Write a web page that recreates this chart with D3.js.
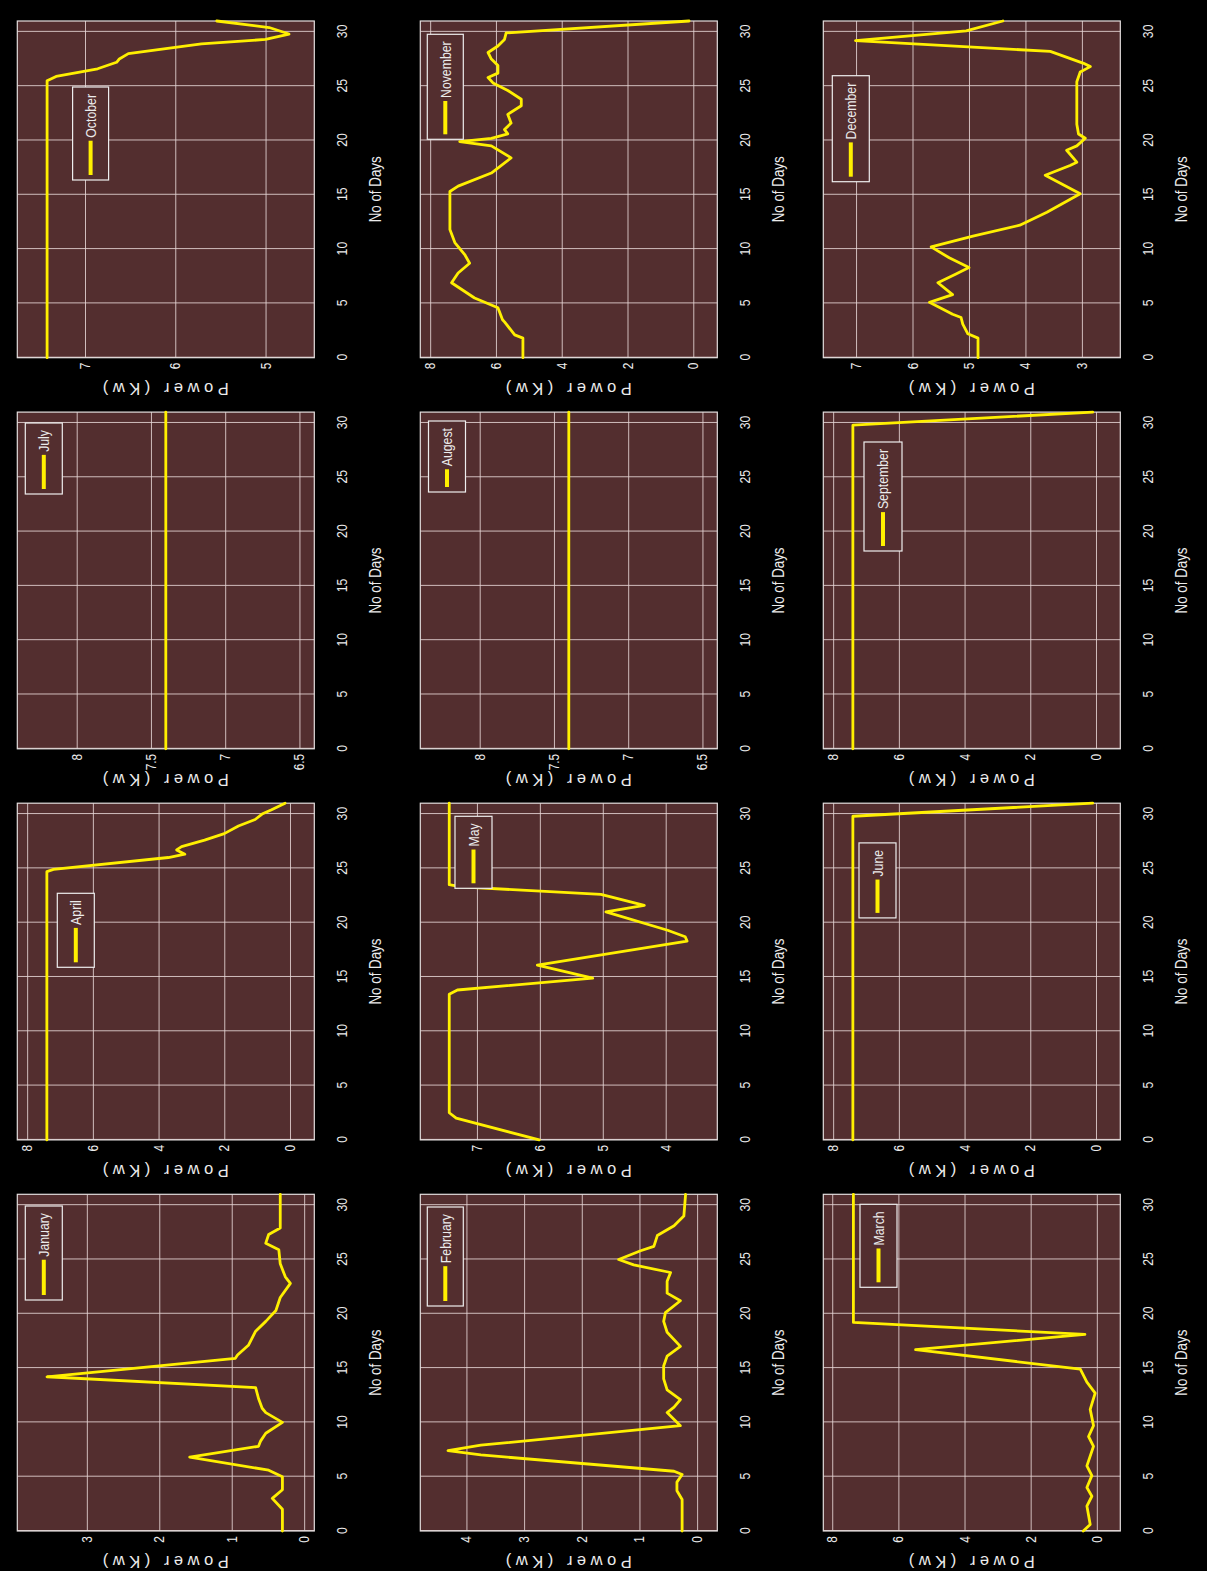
<!DOCTYPE html>
<html>
<head>
<meta charset="utf-8">
<script src="https://cdn.jsdelivr.net/npm/d3@7"></script>
<style>
  html, body { margin: 0; padding: 0; background: #000; }
  svg { display: block; }
</style>
</head>
<body>
<script>
// ---- Data: daily power (kW) per month, as [day, kW] pairs ----
const monthLabels = ["January","February","March","April","May","June",
                     "July","Augest","September","October","November","December"];

const january = [[0,0.30],[2,0.30],[3,0.44],[3.8,0.30],[5,0.30],[5.6,0.49],[6.8,1.58],[7.8,0.63],
  [8.3,0.60],[9,0.53],[10,0.30],[10.9,0.53],[11.3,0.58],[12.2,0.63],[13.2,0.67],[14.2,3.55],
  [15.9,0.95],[16.2,0.92],[17.1,0.77],[18.4,0.67],[19.3,0.53],[20.3,0.39],[21.5,0.33],[22.8,0.19],
  [23.4,0.26],[24.6,0.33],[25.9,0.35],[26.5,0.53],[27.3,0.49],[27.9,0.33],[31,0.33]];
const february = [[0,0.26],[2.9,0.26],[3.7,0.35],[4.5,0.35],[5.2,0.26],[5.5,0.40],[7.0,3.75],[7.4,4.32],
  [7.9,3.75],[9.7,0.29],[10.9,0.52],[11.4,0.40],[12.1,0.29],[13,0.52],[14,0.58],[15.2,0.58],[16.1,0.52],
  [17,0.29],[18.3,0.52],[19.3,0.58],[20.1,0.55],[21.2,0.29],[21.9,0.52],[23,0.52],[23.8,0.46],
  [24.5,1.10],[25,1.36],[25.8,0.98],[26.2,0.75],[27.2,0.69],[28.1,0.40],[29,0.23],[31,0.20]];
const march = [[0,0.41],[0.6,0.20],[2.3,0.30],[3.2,0.15],[4,0.30],[5.1,0.15],[6,0.30],[7.8,0.10],
  [8.7,0.25],[9.7,0.10],[11.2,0.20],[12.7,0.05],[13.7,0.30],[14.9,0.50],[16.7,5.48],[18.1,0.36],
  [19.2,7.36],[31,7.36]];
const april = [[0,7.40],[24.7,7.40],[24.9,7.20],[26,3.70],[26.3,3.20],[26.7,3.45],[27,3.30],[27.6,2.60],
  [28.2,2.00],[28.9,1.57],[29.5,1.06],[30,0.85],[30.4,0.56],[31,0.15]];
const may = [[0,6.01],[2,7.33],[2.5,7.44],[13.4,7.44],[13.8,7.31],[14.9,5.16],[16.1,6.04],[18.3,3.66],
  [18.7,3.69],[19.3,3.97],[21,4.95],[21.6,4.34],[22.6,5.03],[23.3,7.25],[23.5,7.44],[31,7.44]];
const june = [[0,7.40],[29.8,7.40],[31,0.10]];
const july = [[0,7.40],[31,7.40]];
const august = [[0,7.40],[31,7.40]];
const september = [[0,7.40],[29.8,7.40],[31,0.10]];
const october = [[0,7.42],[25.5,7.42],[25.9,7.32],[26.6,6.86],[27.2,6.65],[27.5,6.62],[28,6.52],
  [28.9,5.71],[29.3,5.00],[29.8,4.74],[30.4,4.96],[31,5.54]];
const november = [[0,5.18],[1.8,5.18],[2.1,5.43],[3.3,5.74],[3.5,5.80],[4.6,5.94],[5.5,6.65],[6.9,7.35],
  [7.8,7.15],[8.7,6.80],[9.5,6.95],[10.6,7.25],[11.8,7.40],[15.3,7.40],[15.8,7.15],[17,6.14],[18.4,5.54],
  [19.5,6.14],[19.9,7.10],[20.2,6.14],[20.6,5.64],[21,5.74],[21.6,5.54],[22.4,5.64],[23.2,5.23],
  [23.8,5.23],[24.6,5.64],[25.3,6.09],[25.8,6.24],[26.2,5.94],[26.9,5.94],[27.5,6.14],[28.1,6.24],
  [28.7,5.94],[29.3,5.74],[29.9,5.69],[31,0.13]];
const december = [[0,4.84],[1.8,4.84],[2.2,5.02],[3.1,5.11],[3.7,5.14],[4,5.29],[5.1,5.70],[5.8,5.29],
  [6.9,5.55],[7.7,5.23],[8.3,5.00],[9.2,5.35],[10.2,5.67],[11.2,4.93],[12.2,4.10],[13.4,3.62],
  [15.1,3.03],[16.8,3.65],[17.7,3.21],[18,3.09],[19.1,3.27],[19.5,3.09],[20.2,2.94],[20.6,3.06],
  [21.5,3.09],[25.4,3.09],[26.3,3.03],[26.8,2.85],[27.1,2.97],[28.2,3.56],[29.2,7.01],[30.1,5.05],
  [31,4.40]];

const monthSeries = [january,february,march,april,may,june,july,august,september,october,november,december];

// Axis ranges and tick values
const dayDomain = [0, 31];
const dayTicks = [0,5,10,15,20,25,30];
const powerLimits = [[-0.14,3.96],[-0.35,4.80],[-0.71,8.27],[-0.74,8.30],[3.18,7.90],[-0.74,8.30],
                     [6.4,8.4],[6.4,8.4],[-0.74,8.30],[4.46,7.75],[-0.73,8.30],[2.32,7.58]];
const powerTicks = [[0,1,2,3],[0,1,2,3,4],[0,2,4,6,8],[0,2,4,6,8],[4,5,6,7],[0,2,4,6,8],
                    [6.5,7,7.5,8],[6.5,7,7.5,8],[0,2,4,6,8],[5,6,7],[0,2,4,6,8],[3,4,5,6,7]];

// ---- Layout (figure drawn in landscape, then turned a quarter turn) ----
const FIG_W = 1571, FIG_H = 1207;
const colX = [40.0, 431.1, 822.2, 1213.3];
const rowY = [17.3, 420.3, 823.3];
const PW = 336.7, PH = 297;
// legend boxes: [dx, dy, width, height] relative to each panel
const legendBoxes = [[231,8,94,37],[225,7,99,36],[243.7,36.7,83,37],[172.6,40,74,37],
  [251.6,34.7,72,37],[222,35.7,75,37],[254.8,8,71,37],[256.8,8.2,71,37],
  [197.8,40.7,109,38],[177.7,55.3,93,36],[218.4,7,105,36],[176,9,106,37]];

const AX_BG = "#532e2f", GRID = "#e6d6d6", FRAME = "#e4dede", TXT = "#ececec", LINE = "#fff000";
const FONT = "'Liberation Sans', Arial, sans-serif";

const svg = d3.select("body").append("svg")
  .attr("width", 1207).attr("height", 1571)
  .style("background", "#000");

const fig = svg.append("g").attr("transform", `translate(0,${FIG_W}) rotate(-90)`);

monthSeries.forEach((series, i) => {
  const c = Math.floor(i / 3), r = i % 3;
  const px = colX[c], py = rowY[r];
  const g = fig.append("g").attr("transform", `translate(${px},${py})`);

  const x = d3.scaleLinear().domain(dayDomain).range([0, PW]);
  const y = d3.scaleLinear().domain(powerLimits[i]).range([PH, 0]);

  g.append("rect").attr("width", PW).attr("height", PH).attr("fill", AX_BG);

  // day axis with full-height grid
  const xa = g.append("g").attr("transform", `translate(0,${PH})`)
    .call(d3.axisBottom(x).tickValues(dayTicks).tickSizeInner(-PH).tickSizeOuter(0).tickPadding(0));
  xa.select(".domain").remove();
  xa.selectAll("line").attr("stroke", GRID).attr("stroke-width", 1).attr("stroke-opacity", 0.85);
  xa.selectAll("text")
    .attr("y", 33).attr("dy", null)
    .attr("transform", "scale(0.82,1)")
    .attr("fill", TXT).style("font-family", FONT).style("font-size", "15px");

  // power axis with full-width grid
  const ya = g.append("g")
    .call(d3.axisLeft(y).tickValues(powerTicks[i]).tickSizeInner(-PW).tickSizeOuter(0).tickPadding(0)
      .tickFormat(d3.format("~g")));
  ya.select(".domain").remove();
  ya.selectAll("line").attr("stroke", GRID).attr("stroke-width", 1).attr("stroke-opacity", 0.85);
  ya.selectAll("text")
    .attr("x", null)
    .attr("transform", "translate(-5,0) scale(0.85,1)")
    .attr("fill", TXT).style("font-family", FONT).style("font-size", "14px");

  // frame
  g.append("rect").attr("width", PW).attr("height", PH)
    .attr("fill", "none").attr("stroke", FRAME).attr("stroke-width", 1.2);

  // series
  const line = d3.line().x(d => x(d[0])).y(d => y(d[1]));
  g.append("path").datum(series).attr("d", line)
    .attr("fill", "none").attr("stroke", LINE).attr("stroke-width", 2.8)
    .attr("stroke-linejoin", "round").attr("stroke-linecap", "round");

  // axis titles
  g.append("text")
    .attr("x", PW / 2).attr("y", PH + 67)
    .attr("text-anchor", "middle")
    .attr("textLength", 66).attr("lengthAdjust", "spacingAndGlyphs")
    .attr("fill", TXT).style("font-family", FONT).style("font-size", "16px")
    .text("No of Days");
  g.append("text")
    .attr("transform", `translate(-25,${PH / 2}) rotate(-90)`)
    .attr("text-anchor", "middle")
    .attr("textLength", 126).attr("lengthAdjust", "spacing")
    .attr("fill", TXT).style("font-family", FONT).style("font-size", "16.5px")
    .text("Power (Kw)");

  // legend
  const [lx, ly, lw, lh] = legendBoxes[i];
  const lg = g.append("g").attr("transform", `translate(${lx},${ly})`);
  lg.append("rect").attr("width", lw).attr("height", lh)
    .attr("fill", AX_BG).attr("stroke", "#eeeeee").attr("stroke-width", 1.2);
  const lt = lg.append("text")
    .attr("transform", `translate(${lw - 7},${lh / 2}) scale(0.82,1)`)
    .attr("text-anchor", "end").attr("dy", "0.35em")
    .attr("fill", TXT).style("font-family", FONT).style("font-size", "15px")
    .text(monthLabels[i]);
  const tw = lt.node().getComputedTextLength() * 0.82;
  lg.append("line")
    .attr("x1", 5).attr("x2", lw - 7 - tw - 3)
    .attr("y1", lh / 2).attr("y2", lh / 2)
    .attr("stroke", LINE).attr("stroke-width", 4);
});
</script>
</body>
</html>
